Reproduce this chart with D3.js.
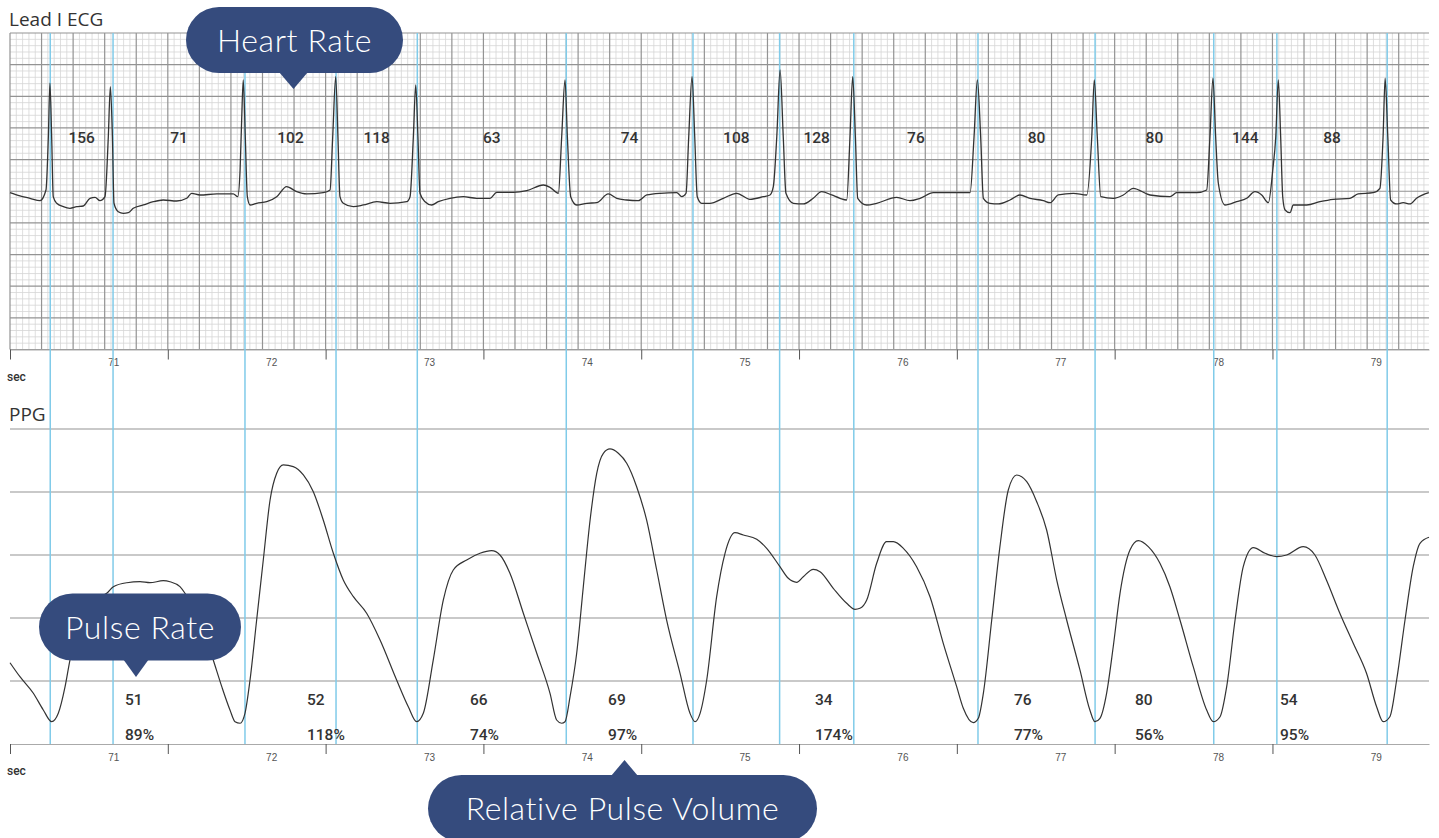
<!DOCTYPE html>
<html>
<head>
<meta charset="utf-8">
<script src="https://cdn.jsdelivr.net/npm/d3@7"></script>
<style>
  body { margin: 0; background: #fff; }
  svg { display: block; }
</style>
</head>
<body>
<svg class="svg" width="1439" height="838"></svg>
<script>
// time axis (seconds)
const secLabels = [71, 72, 73, 74, 75, 76, 77, 78, 79];
const secTicks = [70.345, 71.345, 72.345, 73.345, 74.345, 75.345, 76.345, 77.345, 78.345];

// R peak marker times and heart rate between them
const rPeaks = [70.600, 70.998, 71.834, 72.411, 72.926, 73.870, 74.673, 75.222, 75.692, 76.479, 77.221, 77.973, 78.373, 79.072];
const heartRates = [156, 71, 102, 118, 63, 74, 108, 128, 76, 80, 80, 144, 88];

// pulse rate / relative pulse volume per pulse
const pulseLabelT = [71.074, 72.227, 73.260, 74.135, 75.446, 76.707, 77.474, 78.393];
const pulseRates = [51, 52, 66, 69, 34, 76, 80, 54];
const pulseVolumes = [89, 118, 74, 97, 174, 77, 56, 95];

// Lead I ECG, [sec, mV]
const ecgTrace = [
  [70.345, -0.023], [70.408, -0.075], [70.472, -0.111], [70.535, -0.149], [70.573, 0.02],
  [70.588, 0.862], [70.598, 1.706], [70.609, 0.862], [70.619, -0.086], [70.641, -0.19],
  [70.683, -0.244], [70.725, -0.269], [70.768, -0.244], [70.809, -0.233], [70.852, -0.111],
  [70.884, -0.096], [70.915, -0.149], [70.947, -0.086], [70.968, 0.862], [70.981, 1.652],
  [70.994, 0.862], [71.004, -0.19], [71.031, -0.323], [71.063, -0.348], [71.095, -0.339],
  [71.126, -0.269], [71.19, -0.217], [71.253, -0.165], [71.316, -0.138], [71.401, -0.154],
  [71.465, -0.111], [71.496, -0.032], [71.549, -0.059], [71.655, -0.043], [71.76, -0.043],
  [71.788, -0.086], [71.803, 0.336], [71.813, 1.126], [71.823, 1.758], [71.836, 0.862],
  [71.849, -0.086], [71.866, -0.217], [71.908, -0.19], [71.972, -0.165], [72.035, -0.086],
  [72.098, 0.072], [72.162, -0.007], [72.225, -0.043], [72.33, -0.023], [72.373, 0.02],
  [72.39, 0.862], [72.409, 1.81], [72.423, 0.862], [72.436, -0.086], [72.457, -0.19],
  [72.52, -0.244], [72.584, -0.217], [72.669, -0.165], [72.753, -0.19], [72.859, -0.165],
  [72.88, -0.086], [72.901, 0.862], [72.916, 1.679], [72.93, 0.862], [72.943, -0.032],
  [72.975, -0.165], [73.017, -0.217], [73.059, -0.165], [73.133, -0.111], [73.217, -0.086],
  [73.302, -0.111], [73.387, -0.111], [73.429, -0.017], [73.534, -0.017], [73.619, 0.009],
  [73.725, 0.099], [73.767, 0.062], [73.82, -0.032], [73.841, 0.862], [73.862, 1.758],
  [73.877, 0.862], [73.898, -0.086], [73.936, -0.217], [74.0, -0.19], [74.063, -0.181],
  [74.136, -0.043], [74.19, -0.111], [74.253, -0.138], [74.327, -0.149], [74.38, -0.059],
  [74.464, -0.032], [74.57, -0.023], [74.602, -0.086], [74.629, -0.032], [74.646, 0.862],
  [74.667, 1.81], [74.684, 0.862], [74.7, -0.086], [74.728, -0.19], [74.781, -0.19],
  [74.865, -0.111], [74.95, -0.032], [75.034, -0.127], [75.119, -0.086], [75.161, -0.059],
  [75.182, 0.072], [75.204, 0.862], [75.225, 1.916], [75.245, 0.862], [75.262, -0.032],
  [75.309, -0.19], [75.372, -0.201], [75.435, -0.111], [75.488, -0.007], [75.552, -0.059],
  [75.605, -0.111], [75.647, -0.138], [75.668, 0.862], [75.685, 1.81], [75.702, 0.862],
  [75.717, -0.111], [75.774, -0.217], [75.837, -0.19], [75.964, -0.096], [76.048, -0.149],
  [76.112, -0.111], [76.196, -0.023], [76.429, -0.023], [76.454, 0.862], [76.475, 1.758],
  [76.496, 0.862], [76.513, -0.111], [76.555, -0.19], [76.608, -0.201], [76.682, -0.138],
  [76.745, -0.059], [76.809, -0.111], [76.893, -0.149], [76.936, -0.181], [76.988, -0.059],
  [77.083, -0.032], [77.168, -0.059], [77.2, 0.862], [77.216, 1.758], [77.235, 0.862],
  [77.257, -0.086], [77.337, -0.111], [77.4, -0.059], [77.463, 0.047], [77.569, -0.059],
  [77.696, -0.086], [77.738, -0.023], [77.865, -0.023], [77.928, 0.02], [77.949, 0.862],
  [77.968, 1.785], [77.985, 0.862], [78.002, 0.126], [78.044, -0.217], [78.118, -0.165],
  [78.182, -0.111], [78.234, -0.007], [78.277, -0.059], [78.319, -0.181], [78.347, 0.336],
  [78.366, 0.862], [78.382, 1.758], [78.397, 0.862], [78.41, -0.086], [78.425, -0.296],
  [78.456, -0.339], [78.477, -0.217], [78.562, -0.217], [78.646, -0.165], [78.73, -0.127],
  [78.836, -0.111], [78.888, -0.043], [78.983, -0.023], [79.026, 0.047], [79.046, 0.862],
  [79.059, 1.785], [79.076, 0.862], [79.094, -0.138], [79.132, -0.201], [79.174, -0.181],
  [79.216, -0.201], [79.258, -0.111], [79.336, -0.023]
];

// PPG, [sec, relative units]
const ppgTrace = [
  [70.345, 1.29], [70.408, 1.068], [70.493, 0.805], [70.556, 0.54], [70.609, 0.354],
  [70.651, 0.487], [70.694, 0.91], [70.725, 1.333], [70.789, 1.889], [70.865, 2.286],
  [70.958, 2.392], [71.0, 2.497], [71.085, 2.56], [71.169, 2.576], [71.232, 2.56],
  [71.316, 2.592], [71.359, 2.576], [71.422, 2.497], [71.454, 2.392], [71.517, 2.127],
  [71.581, 1.73], [71.633, 1.333], [71.687, 0.91], [71.739, 0.54], [71.771, 0.354],
  [71.803, 0.329], [71.834, 0.487], [71.866, 1.016], [71.908, 1.968], [71.95, 2.921],
  [71.993, 3.873], [72.035, 4.297], [72.077, 4.429], [72.14, 4.402], [72.204, 4.27],
  [72.267, 4.005], [72.33, 3.556], [72.394, 3.027], [72.457, 2.603], [72.521, 2.338],
  [72.605, 2.075], [72.69, 1.651], [72.795, 1.016], [72.869, 0.592], [72.922, 0.354],
  [72.964, 0.487], [73.027, 1.333], [73.091, 2.286], [73.154, 2.762], [73.239, 2.921],
  [73.323, 3.027], [73.397, 3.068], [73.45, 3.0], [73.513, 2.71], [73.598, 2.075],
  [73.683, 1.44], [73.767, 0.805], [73.809, 0.381], [73.841, 0.329], [73.862, 0.354],
  [73.894, 0.751], [73.936, 1.44], [73.978, 2.497], [74.021, 3.556], [74.063, 4.297],
  [74.105, 4.614], [74.147, 4.683], [74.2, 4.614], [74.253, 4.456], [74.316, 4.084],
  [74.379, 3.556], [74.443, 2.762], [74.506, 1.968], [74.591, 1.122], [74.654, 0.487],
  [74.686, 0.354], [74.718, 0.487], [74.76, 1.016], [74.823, 2.338], [74.876, 3.027],
  [74.939, 3.354], [74.992, 3.317], [75.077, 3.249], [75.14, 3.106], [75.224, 2.814],
  [75.277, 2.63], [75.33, 2.567], [75.372, 2.656], [75.435, 2.773], [75.478, 2.735],
  [75.562, 2.471], [75.647, 2.233], [75.7, 2.138], [75.731, 2.154], [75.774, 2.286],
  [75.837, 2.868], [75.9, 3.211], [75.943, 3.211], [76.006, 3.106], [76.09, 2.814],
  [76.175, 2.338], [76.259, 1.598], [76.344, 0.91], [76.386, 0.567], [76.449, 0.338],
  [76.481, 0.408], [76.513, 0.805], [76.566, 1.968], [76.618, 3.132], [76.671, 4.032],
  [76.724, 4.27], [76.788, 4.163], [76.851, 3.846], [76.914, 3.397], [76.978, 2.603],
  [77.041, 1.968], [77.125, 1.175], [77.188, 0.54], [77.22, 0.354], [77.252, 0.408],
  [77.294, 0.805], [77.336, 1.544], [77.379, 2.392], [77.442, 3.079], [77.495, 3.227],
  [77.558, 3.132], [77.632, 2.868], [77.695, 2.497], [77.759, 1.968], [77.843, 1.227],
  [77.928, 0.54], [77.97, 0.354], [78.013, 0.433], [78.055, 0.91], [78.108, 1.968],
  [78.16, 2.814], [78.224, 3.116], [78.298, 3.027], [78.372, 2.973], [78.435, 3.0],
  [78.54, 3.132], [78.614, 3.0], [78.687, 2.603], [78.772, 2.075], [78.857, 1.598],
  [78.941, 1.122], [79.005, 0.592], [79.047, 0.354], [79.089, 0.433], [79.132, 1.016],
  [79.185, 1.968], [79.237, 2.814], [79.28, 3.186], [79.337, 3.281]
];

const svg = d3.select('.svg');
const x = d3.scaleLinear().domain([70.345, 79.337]).range([10, 1429]);
const yEcg = d3.scaleLinear().domain([-2.5, 2.5]).range([349.5, 33]);
const yPpg = d3.scaleLinear().domain([0, 5]).range([744, 429]);

const numFont = 'Roboto, "Liberation Sans", Arial, sans-serif';
const tickFont = '"Liberation Sans", Arial, sans-serif';
const titleFont = '"Open Sans", sans-serif';

// ECG paper grid: 0.04 s x 0.1 mV, heavy every 5
function ecgGrid(major) {
  const g = svg.append('g')
    .attr('stroke', major ? '#939393' : '#d6d6d6')
    .attr('stroke-width', major ? 1.2 : 0.8);
  const [t0, t1] = x.domain();
  d3.range(0, 225).forEach(i => {
    const t = t0 + i * 0.04;
    if (t > t1 || (i % 5 === 0) !== major) return;
    g.append('line')
      .attr('x1', x(t)).attr('x2', x(t))
      .attr('y1', yEcg(2.5)).attr('y2', yEcg(-2.5));
  });
  d3.range(0, 51).forEach(i => {
    const v = -2.5 + i * 0.1;
    if ((i % 5 === 0) !== major) return;
    g.append('line')
      .attr('x1', x(t0)).attr('x2', x(t1))
      .attr('y1', yEcg(v)).attr('y2', yEcg(v));
  });
}
ecgGrid(false);
ecgGrid(true);

// PPG grid lines
svg.append('g').selectAll('line')
  .data([1, 2, 3, 4, 5])
  .join('line')
  .attr('x1', x.range()[0]).attr('x2', x.range()[1])
  .attr('y1', d => yPpg(d)).attr('y2', d => yPpg(d))
  .attr('stroke', '#939393')
  .attr('stroke-width', 1.2);

function timeAxis(y) {
  const ticks = svg.append('g')
    .attr('transform', `translate(0,${y})`)
    .call(d3.axisBottom(x).tickValues(secTicks).tickFormat('').tickSize(10).tickSizeOuter(0));
  ticks.select('.domain').attr('stroke', '#aaa').attr('stroke-width', 1.2);
  ticks.selectAll('.tick line').attr('stroke', '#555');

  const labels = svg.append('g')
    .attr('transform', `translate(0,${y})`)
    .call(d3.axisBottom(x).tickValues(secLabels).tickSize(0).tickPadding(9.5));
  labels.select('.domain').remove();
  labels.selectAll('text')
    .attr('font-family', tickFont)
    .attr('font-size', 10)
    .attr('fill', '#555');

  svg.append('text')
    .attr('x', 7).attr('y', y + 31)
    .attr('font-family', numFont)
    .attr('font-weight', 500)
    .attr('font-size', 12)
    .attr('fill', '#333')
    .text('sec');
}
timeAxis(yEcg(-2.5));
timeAxis(yPpg(0));

// R peak markers, through both panels
svg.append('g').selectAll('line')
  .data(rPeaks)
  .join('line')
  .attr('x1', d => x(d)).attr('x2', d => x(d))
  .attr('y1', yEcg(2.5)).attr('y2', yPpg(0))
  .attr('stroke', '#80cbe9')
  .attr('stroke-width', 1.5);

// traces
svg.append('path')
  .datum(ecgTrace)
  .attr('d', d3.line().x(d => x(d[0])).y(d => yEcg(d[1])).curve(d3.curveMonotoneX))
  .attr('fill', 'none')
  .attr('stroke', '#333')
  .attr('stroke-width', 1.3);

svg.append('path')
  .datum(ppgTrace)
  .attr('d', d3.line().x(d => x(d[0])).y(d => yPpg(d[1])).curve(d3.curveMonotoneX))
  .attr('fill', 'none')
  .attr('stroke', '#333')
  .attr('stroke-width', 1.2);

// panel titles
svg.append('text').attr('x', 9).attr('y', 26)
  .attr('font-family', titleFont).attr('font-size', 19).attr('fill', '#333')
  .text('Lead I ECG');
svg.append('text').attr('x', 9).attr('y', 420.5)
  .attr('font-family', titleFont).attr('font-size', 19).attr('fill', '#333')
  .text('PPG');

// heart rate between beats
svg.append('g').selectAll('text')
  .data(heartRates)
  .join('text')
  .attr('x', (d, i) => x((rPeaks[i] + rPeaks[i + 1]) / 2))
  .attr('y', 143)
  .attr('text-anchor', 'middle')
  .attr('font-family', numFont)
  .attr('font-weight', 500)
  .attr('font-size', 15.5)
  .attr('fill', '#333')
  .text(d => d);

// pulse rate and relative volume
svg.append('g').selectAll('text')
  .data(pulseRates)
  .join('text')
  .attr('x', (d, i) => x(pulseLabelT[i]))
  .attr('y', 705)
  .attr('font-family', numFont)
  .attr('font-weight', 500)
  .attr('font-size', 15.5)
  .attr('fill', '#333')
  .text(d => d);

svg.append('g').selectAll('text')
  .data(pulseVolumes)
  .join('text')
  .attr('x', (d, i) => x(pulseLabelT[i]))
  .attr('y', 740)
  .attr('font-family', numFont)
  .attr('font-weight', 500)
  .attr('font-size', 15.5)
  .attr('fill', '#333')
  .text(d => d + '%');

// callout bubbles
function bubble(left, top, w, h, tip, label, textY) {
  const g = svg.append('g');
  g.append('rect')
    .attr('x', left).attr('y', top)
    .attr('width', w).attr('height', h)
    .attr('rx', h / 2)
    .attr('fill', '#354b7d');
  g.append('path')
    .attr('d', d3.line()(tip))
    .attr('fill', '#354b7d');
  g.append('text')
    .attr('x', left + w / 2)
    .attr('y', textY)
    .attr('text-anchor', 'middle')
    .attr('font-family', 'Lato, sans-serif')
    .attr('font-weight', 300)
    .attr('font-size', 32)
    .attr('letter-spacing', 0.6)
    .attr('fill', '#fff')
    .text(label);
}

bubble(186, 7, 217, 66, [[279, 72], [308, 72], [293.5, 89]], 'Heart Rate', 51.7);
bubble(39, 593.5, 202, 67, [[123, 659], [149, 659], [136, 677]], 'Pulse Rate', 639.3);
bubble(428, 775, 389, 67, [[611, 776], [638, 776], [624.5, 760]], 'Relative Pulse Volume', 820);
</script>
</body>
</html>
